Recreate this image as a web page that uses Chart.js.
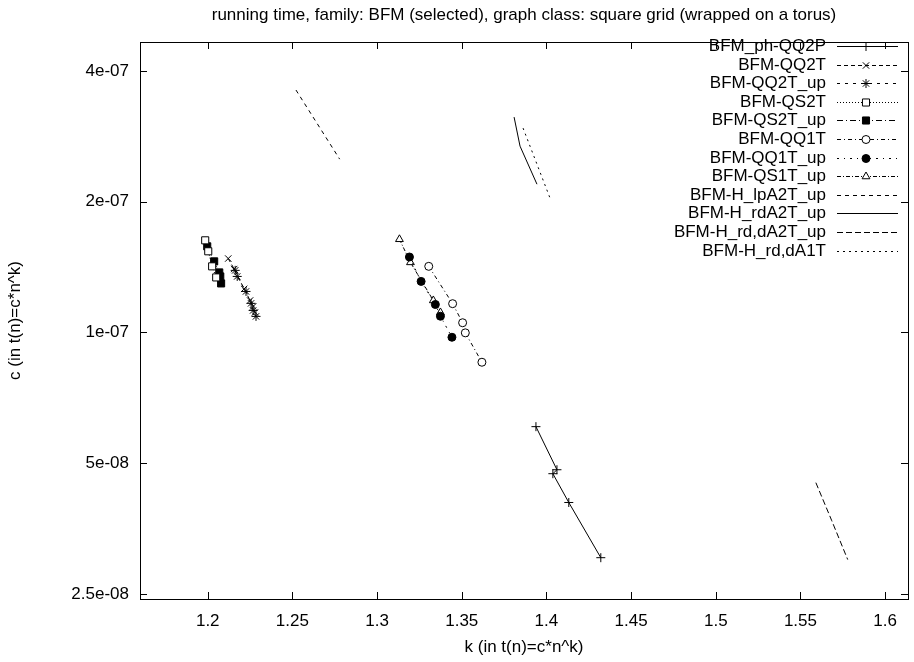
<!DOCTYPE html>
<html>
<head>
<meta charset="utf-8">
<script src="https://cdn.jsdelivr.net/npm/chart.js@4.4.1/dist/chart.umd.min.js"></script>
<style>
  body { margin: 0; background: #fff; }
</style>
</head>
<body>
<canvas id="chart" width="914" height="662"></canvas>
<script>
// Axis ticks
const xTicks = [1.2, 1.25, 1.3, 1.35, 1.4, 1.45, 1.5, 1.55, 1.6];
const xTickLabels = ['1.2', '1.25', '1.3', '1.35', '1.4', '1.45', '1.5', '1.55', '1.6'];
const yTicks = [2.5e-8, 5e-8, 1e-7, 2e-7, 4e-7];
const yTickLabels = ['2.5e-08', '5e-08', '1e-07', '2e-07', '4e-07'];

// Series values (k, c)
const kPhQQ2P = [1.3938, 1.4062, 1.4038, 1.4132, 1.4321];
const cPhQQ2P = [6.07e-8, 4.83e-8, 4.73e-8, 4.06e-8, 3.03e-8];

const kQQ2T = [1.2121, 1.2156, 1.2215, 1.2250, 1.2268, 1.2279];
const cQQ2T = [1.48e-7, 1.40e-7, 1.26e-7, 1.185e-7, 1.148e-7, 1.112e-7];

const kQQ2TUp = [1.2162, 1.2174, 1.2226, 1.2256, 1.2268, 1.2285];
const cQQ2TUp = [1.39e-7, 1.346e-7, 1.243e-7, 1.167e-7, 1.124e-7, 1.089e-7];

const kQS2T = [1.1985, 1.2003, 1.2026, 1.2050];
const cQS2T = [1.63e-7, 1.538e-7, 1.42e-7, 1.339e-7];

const kQS2TUp = [1.1997, 1.2038, 1.2068, 1.2074, 1.2079];
const cQS2TUp = [1.579e-7, 1.458e-7, 1.375e-7, 1.346e-7, 1.297e-7];

const kQQ1T = [1.3305, 1.3446, 1.3505, 1.3521, 1.3619];
const cQQ1T = [1.42e-7, 1.165e-7, 1.053e-7, 0.998e-7, 0.854e-7];

const kQQ1TUp = [1.3191, 1.3260, 1.3344, 1.3374, 1.3442];
const cQQ1TUp = [1.492e-7, 1.311e-7, 1.16e-7, 1.09e-7, 0.975e-7];

const kQS1TUp = [1.3132, 1.3197, 1.3332, 1.3374];
const cQS1TUp = [1.639e-7, 1.45e-7, 1.185e-7, 1.112e-7];

const kLpA2TUp = [1.2521, 1.2779];
const cLpA2TUp = [3.616e-7, 2.507e-7];

const kRdA2TUp = [1.3809, 1.3844, 1.3944];
const cRdA2TUp = [3.133e-7, 2.686e-7, 2.195e-7];

const kRdDA2TUp = [1.5591, 1.5685, 1.5779];
const cRdDA2TUp = [4.51e-8, 3.685e-8, 3.0e-8];

const kRdDA1T = [1.3862, 1.4026];
const cRdDA1T = [2.955e-7, 2.016e-7];

const FAMILY = '"Liberation Sans", Arial, sans-serif';
const FONT = '17px ' + FAMILY;

function pts(ks, cs) {
    return ks.map((k, i) => ({ x: k, y: cs[i] }));
}

function series(label, ks, cs, dash, style, fill, radius) {
    const r = style ? (radius || 4) : 0;
    return {
        label: label,
        data: pts(ks, cs),
        showLine: true,
        borderColor: '#000',
        borderWidth: 1,
        borderDash: dash,
        pointStyle: style || 'circle',
        pointRadius: r,
        pointHoverRadius: r,
        pointBorderColor: '#000',
        pointBorderWidth: 1,
        pointBackgroundColor: fill || '#fff'
    };
}

const datasets = [
    series('BFM_ph-QQ2P', kPhQQ2P, cPhQQ2P, [], 'cross', null, 4.5),
    series('BFM-QQ2T', kQQ2T, cQQ2T, [4, 3], 'crossRot', null, 4.5),
    series('BFM-QQ2T_up', kQQ2TUp, cQQ2TUp, [3, 5], 'star', null, 4.5),
    series('BFM-QS2T', kQS2T, cQS2T, [1, 2], 'rect', '#fff', 5),
    series('BFM-QS2T_up', kQS2TUp, cQS2TUp, [6, 3, 1, 3], 'rect', '#000', 5),
    series('BFM-QQ1T', kQQ1T, cQQ1T, [4, 3, 1, 3], 'circle', '#fff', 4),
    series('BFM-QQ1T_up', kQQ1TUp, cQQ1TUp, [2, 5, 1, 5], 'circle', '#000', 4),
    series('BFM-QS1T_up', kQS1TUp, cQS1TUp, [4, 2, 1, 2], 'triangle', '#fff', 4.5),
    series('BFM-H_lpA2T_up', kLpA2TUp, cLpA2TUp, [4, 4]),
    series('BFM-H_rdA2T_up', kRdA2TUp, cRdA2TUp, []),
    series('BFM-H_rd,dA2T_up', kRdDA2TUp, cRdDA2TUp, [6, 3]),
    series('BFM-H_rd,dA1T', kRdDA1T, cRdDA1T, [2, 4])
];

// Border box, mirrored ticks, titles and a gnuplot-like key
const gnuplotFrame = {
    id: 'gnuplotFrame',
    afterDraw(chart) {
        const { ctx, chartArea: a, scales: { x, y } } = chart;
        ctx.save();
        ctx.strokeStyle = '#000';
        ctx.lineWidth = 1;
        ctx.setLineDash([]);
        ctx.strokeRect(a.left + 0.5, a.top + 0.5, a.right - a.left, a.bottom - a.top);

        ctx.beginPath();
        xTicks.forEach(v => {
            const px = Math.round(x.getPixelForValue(v)) + 0.5;
            ctx.moveTo(px, a.bottom); ctx.lineTo(px, a.bottom - 7);
            ctx.moveTo(px, a.top); ctx.lineTo(px, a.top + 7);
        });
        yTicks.forEach(v => {
            const py = Math.round(y.getPixelForValue(v)) + 0.5;
            ctx.moveTo(a.left, py); ctx.lineTo(a.left + 7, py);
            ctx.moveTo(a.right, py); ctx.lineTo(a.right - 7, py);
        });
        ctx.stroke();

        ctx.fillStyle = '#000';
        ctx.font = FONT;
        ctx.textAlign = 'center';
        ctx.textBaseline = 'middle';
        const cx = (a.left + a.right) / 2;
        ctx.fillText('running time, family: BFM (selected), graph class: square grid (wrapped on a torus)', cx, 15);
        ctx.fillText('k (in t(n)=c*n^k)', cx, 647);
        ctx.save();
        ctx.translate(15, (a.top + a.bottom) / 2);
        ctx.rotate(-Math.PI / 2);
        ctx.fillText('c (in t(n)=c*n^k)', 0, 0);
        ctx.restore();

        // key
        chart.data.datasets.forEach((ds, i) => {
            const ly = Math.round(a.top + 4 + i * 18.6) + 0.5;
            ctx.fillStyle = '#000';
            ctx.textAlign = 'right';
            ctx.fillText(ds.label, 826, ly);
            ctx.setLineDash(ds.borderDash);
            ctx.beginPath();
            ctx.moveTo(837, ly);
            ctx.lineTo(898, ly);
            ctx.stroke();
            ctx.setLineDash([]);
            if (ds.pointRadius > 0) {
                ctx.fillStyle = ds.pointBackgroundColor;
                Chart.helpers.drawPoint(ctx, {
                    pointStyle: ds.pointStyle,
                    rotation: 0,
                    radius: ds.pointRadius,
                    borderWidth: 1
                }, 866, ly);
            }
        });
        ctx.restore();
    }
};

new Chart(document.getElementById('chart').getContext('2d'), {
    type: 'scatter',
    data: { datasets: datasets },
    plugins: [gnuplotFrame],
    options: {
        responsive: false,
        animation: false,
        layout: { padding: { top: 42, right: 3, left: 0, bottom: 0 } },
        plugins: {
            legend: { display: false },
            title: { display: false },
            tooltip: { enabled: false }
        },
        scales: {
            x: {
                type: 'linear',
                min: 1.16,
                max: 1.6135,
                grid: { display: false, drawTicks: false },
                border: { display: false },
                afterBuildTicks: scale => { scale.ticks = xTicks.map(v => ({ value: v })); },
                afterFit: scale => { scale.height = 63; },
                ticks: {
                    padding: 12,
                    color: '#000',
                    font: { family: FAMILY, size: 17 },
                    maxRotation: 0,
                    callback: (v, i) => xTickLabels[i]
                }
            },
            y: {
                type: 'logarithmic',
                min: 2.434e-8,
                max: 4.665e-7,
                grid: { display: false, drawTicks: false },
                border: { display: false },
                afterBuildTicks: scale => { scale.ticks = yTicks.map(v => ({ value: v })); },
                afterFit: scale => { scale.width = 140; },
                ticks: {
                    padding: 11,
                    color: '#000',
                    font: { family: FAMILY, size: 17 },
                    callback: (v, i) => yTickLabels[i]
                }
            }
        }
    }
});
</script>
</body>
</html>
